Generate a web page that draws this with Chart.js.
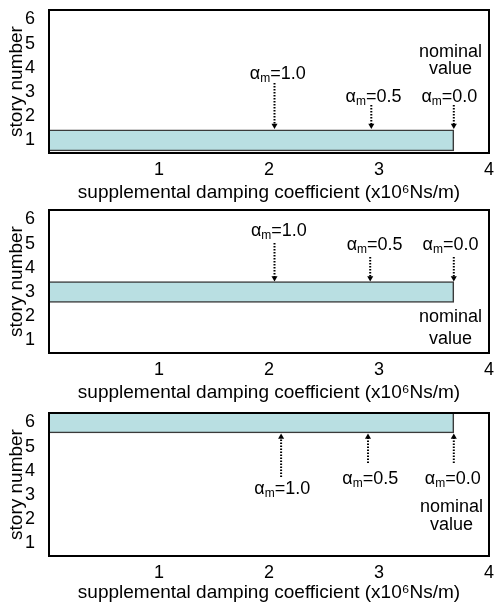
<!DOCTYPE html>
<html>
<head>
<meta charset="utf-8">
<script src="https://cdn.jsdelivr.net/npm/chart.js@4.4.0/dist/chart.umd.min.js"></script>
<style>
  body { margin: 0; background: #fff; width: 496px; height: 610px; position: relative; overflow: hidden; }
  canvas { position: absolute; left: 0; }
</style>
</head>
<body>
<canvas id="c0" width="496" height="210" style="top:0px"></canvas>
<canvas id="c1" width="496" height="210" style="top:200px"></canvas>
<canvas id="c2" width="496" height="210" style="top:400px"></canvas>
<script>
// values
const storyTicks = [1, 2, 3, 4, 5, 6]
const coefTicks = [1, 2, 3, 4]
const panelStory = [1, 3, 6]          // story that gets the damper in each panel
const nominalCoef = [3.68, 3.68, 3.68] // x10^6 Ns/m
const alphaNames = ['1.0', '0.5', '0.0']
const alphaCoef = [[2.05, 2.93, 3.68], [2.05, 2.92, 3.68], [2.11, 2.90, 3.68]]

// annotation anchors, in axis units (coef, story)
const arrowFrom = [[3.37, 2.46, 2.46], [5.03, 4.45, 4.45], [3.75, 4.32, 4.32]]
const arrowTip = [1.62, 3.58, 5.40]
const labelX = [[2.08, 2.95, 3.64], [2.09, 2.96, 3.65], [2.12, 2.92, 3.67]]
const labelY = [[3.75, 2.80, 2.80], [5.52, 4.94, 4.94], [3.25, 3.67, 3.67]]
const nominalX = [3.65, 3.65, 3.66]
const nominalY = [[4.65, 3.95], [1.97, 1.06], [2.51, 1.76]]

const FONT = "'Liberation Sans', Arial, sans-serif"
Chart.defaults.font.family = FONT
Chart.defaults.color = '#000'

const padTop = [10, 10, 13]
const xAxisH = [57, 57, 54]

const frame = {
    id: 'frame',
    afterDatasetsDraw(chart) {
        const { ctx, chartArea: a } = chart
        ctx.save()
        ctx.strokeStyle = '#000'
        ctx.lineWidth = 2
        ctx.strokeRect(a.left, a.top, a.right - a.left, a.bottom - a.top)
        ctx.restore()
    }
}

const makeChart = (i) => {
    const datasets = [{
        type: 'bar',
        indexAxis: 'y',
        data: [{ x: nominalCoef[i], y: panelStory[i] }],
        backgroundColor: '#b9dfe2',
        borderColor: '#3a3a3a',
        borderWidth: 1.5,
        barThickness: 21
    }]
    const up = i === 2
    alphaCoef[i].forEach((c, k) => {
        datasets.push({
            type: 'line',
            data: [{ x: c, y: arrowFrom[i][k] }, { x: c, y: arrowTip[i] }],
            borderColor: '#000',
            borderWidth: 2,
            borderDash: [1.5, 1.5],
            pointRadius: [0, 3.5],
            pointStyle: 'triangle',
            pointRotation: up ? 0 : 180,
            pointBackgroundColor: '#000',
            pointBorderColor: '#000',
            pointBorderWidth: 0
        })
    })

    const labels = {
        id: 'labels',
        afterDraw(chart) {
            const { ctx, scales: { x, y } } = chart
            ctx.save()
            ctx.fillStyle = '#000'
            ctx.textBaseline = 'middle'
            alphaNames.forEach((name, k) => {
                const cx = x.getPixelForValue(labelX[i][k])
                const cy = y.getPixelForValue(labelY[i][k])
                const big = '18px ' + FONT, small = '12px ' + FONT
                ctx.font = big
                const wa = ctx.measureText('α').width
                const wr = ctx.measureText('=' + name).width
                ctx.font = small
                const wm = ctx.measureText('m').width
                let px = cx - (wa + wm + wr) / 2
                ctx.textAlign = 'left'
                ctx.font = big
                ctx.fillText('α', px, cy)
                px += wa
                ctx.font = small
                ctx.fillText('m', px, cy + 5)
                px += wm
                ctx.font = big
                ctx.fillText('=' + name, px, cy)
            })
            ctx.textAlign = 'center'
            ctx.font = '18px ' + FONT
            const nx = x.getPixelForValue(nominalX[i])
            ctx.fillText('nominal', nx, y.getPixelForValue(nominalY[i][0]))
            ctx.fillText('value', nx, y.getPixelForValue(nominalY[i][1]))
            ctx.restore()
        }
    }

    return new Chart(document.getElementById('c' + i), {
        type: 'line',
        data: { datasets: datasets },
        options: {
            responsive: false,
            animation: false,
            layout: { padding: { top: padTop[i], right: 7, left: 0, bottom: 0 } },
            plugins: { legend: { display: false }, tooltip: { enabled: false } },
            scales: {
                x: {
                    type: 'linear',
                    min: 0,
                    max: 4,
                    grid: { display: false },
                    border: { display: false },
                    afterBuildTicks: (s) => { s.ticks = coefTicks.map(v => ({ value: v })) },
                    afterFit: (s) => { s.height = xAxisH[i]; s.paddingLeft = 0; s.paddingRight = 0 },
                    ticks: { font: { size: 18 }, padding: -2, maxRotation: 0 },
                    title: {
                        display: true,
                        text: 'supplemental damping coefficient (x10⁶Ns/m)',
                        font: { size: 19 },
                        padding: { top: 0, bottom: 6 }
                    }
                },
                y: {
                    type: 'linear',
                    min: 0.48,
                    max: 6.39,
                    offset: false,
                    grid: { display: false },
                    border: { display: false },
                    afterBuildTicks: (s) => { s.ticks = storyTicks.map(v => ({ value: v })) },
                    afterFit: (s) => { s.width = 49; s.paddingTop = 0; s.paddingBottom = 0 },
                    ticks: { font: { size: 18 }, padding: 6 },
                    title: {
                        display: true,
                        text: 'story number',
                        font: { size: 19 },
                        padding: { top: 5, bottom: 0 }
                    }
                }
            }
        },
        plugins: [frame, labels]
    })
}

[0, 1, 2].forEach(makeChart)
</script>
</body>
</html>
